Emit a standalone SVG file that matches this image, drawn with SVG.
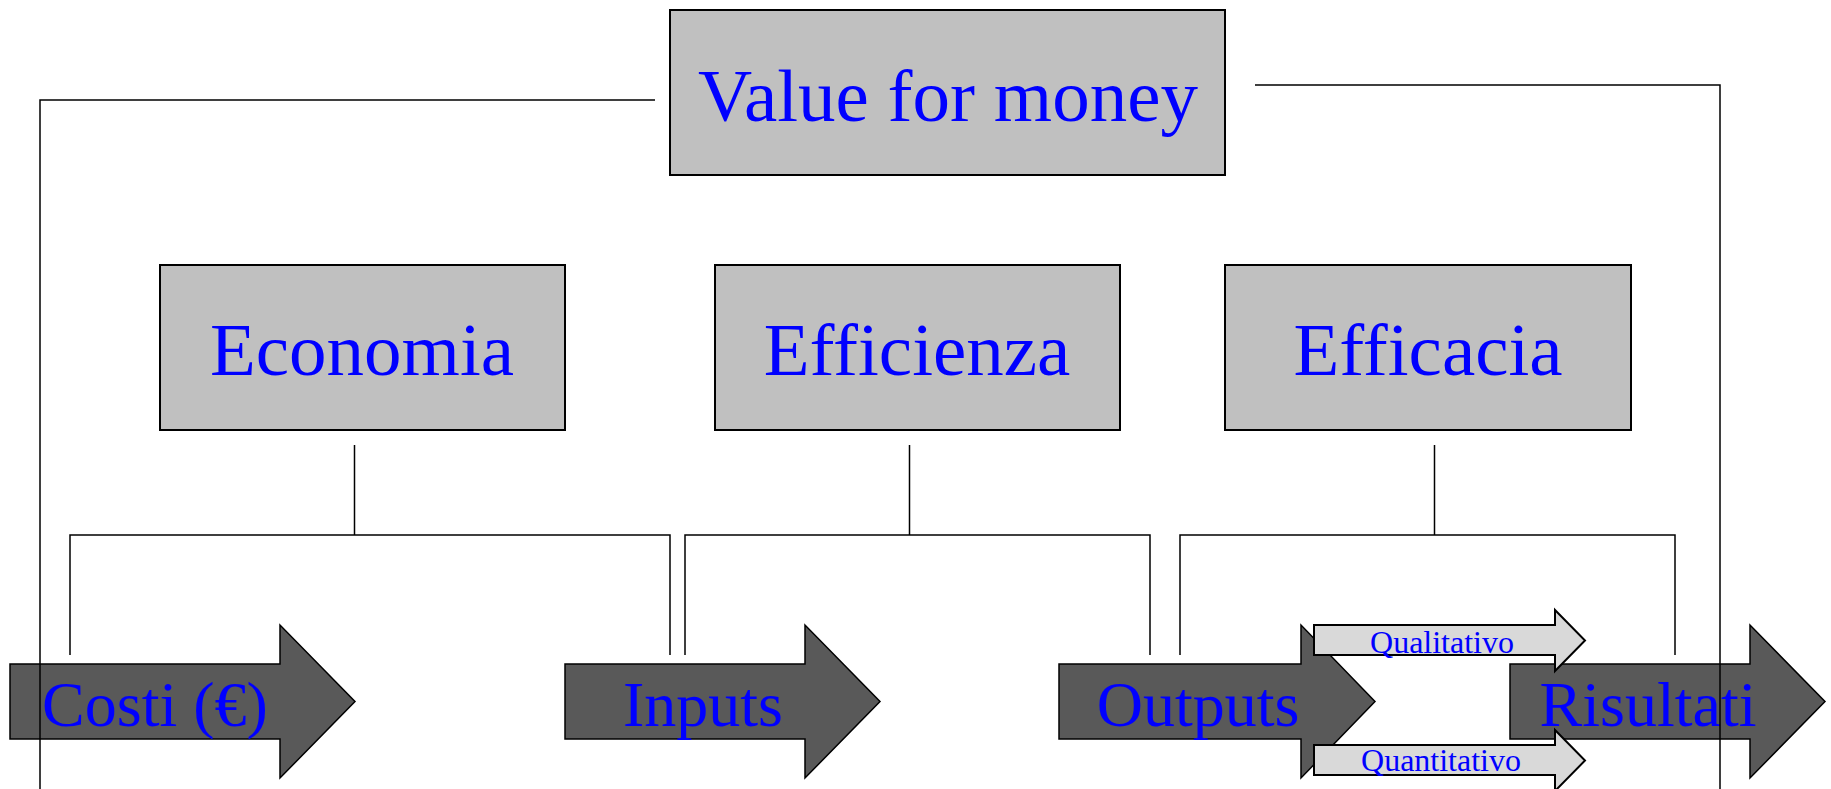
<svg xmlns="http://www.w3.org/2000/svg" width="1831" height="789" viewBox="0 0 1831 789">
<style>
.box{fill:#C0C0C0;stroke:#000;stroke-width:2}
.big{fill:#595959;stroke:#000;stroke-width:1.5}
.small{fill:#D9D9D9;stroke:#000;stroke-width:2}
.t{font-family:"Liberation Serif","Times New Roman",serif;fill:#0000FF;text-anchor:middle}
.l{fill:none;stroke:#000;stroke-width:1.5}
</style>
<rect width="1831" height="789" fill="#fff"/>
<g id="value-for-money"><rect class="box" x="670" y="10" width="555" height="165"/><text class="t" x="948" y="121" font-size="75">Value for money</text></g>
<g id="economia"><rect class="box" x="160" y="265" width="405" height="165"/><text class="t" x="362" y="375" font-size="75">Economia</text></g>
<g id="efficienza"><rect class="box" x="715" y="265" width="405" height="165"/><text class="t" x="917" y="375" font-size="75">Efficienza</text></g>
<g id="efficacia"><rect class="box" x="1225" y="265" width="406" height="165"/><text class="t" x="1428" y="375" font-size="75">Efficacia</text></g>
<g id="costi"><path class="big" d="M10,664 H280 V625 L355,701.5 L280,778 V739 H10 Z"/><text class="t" x="155" y="726" font-size="64">Costi (€)</text></g>
<g id="inputs"><path class="big" d="M565,664 H805 V625 L880,701.5 L805,778 V739 H565 Z"/><text class="t" x="703" y="726" font-size="64">Inputs</text></g>
<g id="outputs"><path class="big" d="M1059,664 H1301 V625 L1375,701.5 L1301,778 V739 H1059 Z"/><text class="t" x="1198" y="726" font-size="64">Outputs</text></g>
<g id="risultati"><path class="big" d="M1510,664 H1750 V625 L1825,701.5 L1750,778 V739 H1510 Z"/><text class="t" x="1648" y="726" font-size="64">Risultati</text></g>
<g id="qualitativo"><path class="small" d="M1314,625 H1555 V610 L1585,640.5 L1555,671 V655 H1314 Z"/><text class="t" x="1442" y="653" font-size="32">Qualitativo</text></g>
<g id="quantitativo"><path class="small" d="M1314,745 H1555 V730 L1585,760.5 L1555,791 V775 H1314 Z"/><text class="t" x="1441" y="771" font-size="32">Quantitativo</text></g>
<g id="connectors">
<path class="l" d="M655,100 H40 V789"/>
<path class="l" d="M1255,85 H1720 V789"/>
<path class="l" d="M354.5,445 V535 M70,655 V535 H670 V655"/>
<path class="l" d="M909.5,445 V535 M685,655 V535 H1150 V655"/>
<path class="l" d="M1434.5,445 V535 M1180,655 V535 H1675 V655"/>
</g>
</svg>
